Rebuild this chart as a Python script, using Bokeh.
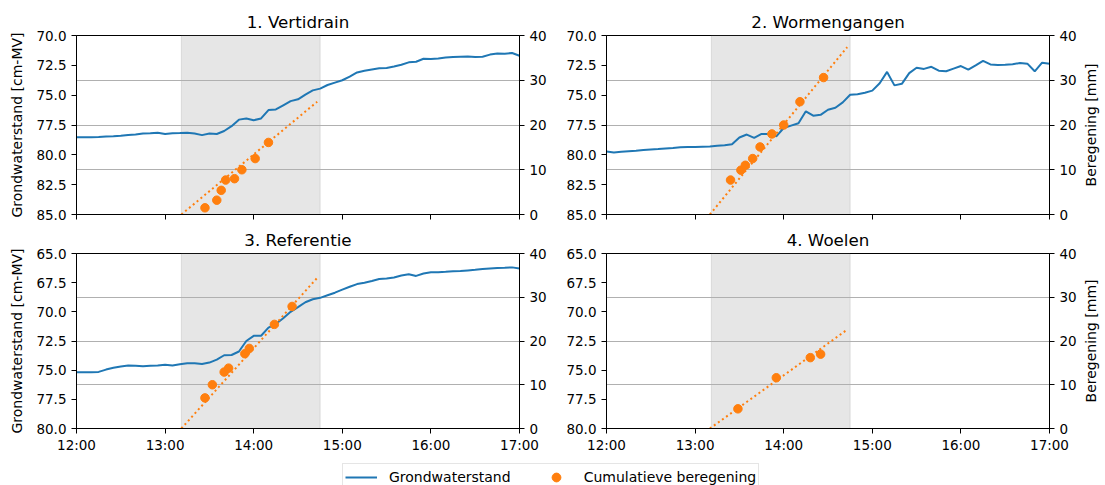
import math
import numpy as np
import pandas as pd
from bokeh.plotting import figure
from bokeh.models import (Range1d, LinearAxis, FixedTicker, Grid, BoxAnnotation,
                          DatetimeTickFormatter, PrintfTickFormatter, Legend, LegendItem,
                          CustomLabelingPolicy, Title)
from bokeh.layouts import row, column
from bokeh.embed import file_html
from bokeh.resources import INLINE

DAY = "2019-06-01 "

# ---------------- data ----------------
time_ticks = ["12:00", "13:00", "14:00", "15:00", "16:00", "17:00"]
top_gw_ticks = [70.0, 72.5, 75.0, 77.5, 80.0, 82.5, 85.0]
bottom_gw_ticks = [65.0, 67.5, 70.0, 72.5, 75.0, 77.5, 80.0]
irr_ticks = [0, 10, 20, 30, 40]

titles = ["1. Vertidrain", "2. Wormengangen", "3. Referentie", "4. Woelen"]
irrigation_window = ["13:11", "14:45"]

# groundwater level every 5 minutes, 12:00 - 17:00
gw_vertidrain = [78.53, 78.53, 78.52, 78.50, 78.47, 78.45, 78.40, 78.33, 78.30, 78.22,
                 78.20, 78.15, 78.25, 78.20, 78.18, 78.15, 78.22, 78.35, 78.22, 78.25,
                 78.00, 77.60, 77.05, 76.95, 77.10, 76.95, 76.25, 76.20, 75.85, 75.50,
                 75.35, 74.95, 74.60, 74.45, 74.15, 73.95, 73.75, 73.45, 73.10, 72.95,
                 72.85, 72.75, 72.72, 72.60, 72.45, 72.25, 72.20, 71.95, 71.97, 71.93,
                 71.85, 71.80, 71.78, 71.77, 71.80, 71.78, 71.60, 71.50, 71.52, 71.47,
                 71.70]
gw_wormengangen = [79.72, 79.80, 79.75, 79.70, 79.66, 79.60, 79.56, 79.52, 79.46, 79.42,
                   79.37, 79.34, 79.35, 79.32, 79.30, 79.24, 79.20, 79.12, 78.55, 78.30,
                   78.58, 78.25, 78.25, 78.45, 77.75, 77.55, 77.35, 76.35, 76.72, 76.65,
                   76.22, 76.05, 75.60, 74.97, 74.93, 74.80, 74.62, 74.00, 73.05, 74.18,
                   74.05, 73.15, 72.70, 72.80, 72.62, 72.95, 73.00, 72.78, 72.56, 72.86,
                   72.50, 72.12, 72.42, 72.47, 72.45, 72.40, 72.31, 72.36, 73.00, 72.28,
                   72.36]
gw_referentie = [75.17, 75.17, 75.17, 75.15, 74.95, 74.80, 74.68, 74.61, 74.62, 74.67,
                 74.63, 74.60, 74.53, 74.60, 74.50, 74.40, 74.40, 74.48, 74.35, 74.10,
                 73.72, 73.70, 73.40, 72.50, 72.06, 72.05, 71.35, 71.05, 70.55, 70.00,
                 69.60, 69.18, 68.92, 68.80, 68.58, 68.36, 68.10, 67.85, 67.62, 67.50,
                 67.35, 67.18, 67.15, 67.05, 66.88, 66.78, 66.92, 66.72, 66.61, 66.60,
                 66.57, 66.53, 66.50, 66.45, 66.40, 66.33, 66.28, 66.24, 66.22, 66.19,
                 66.28]
gw_woelen = []

# cumulative irrigation [mm]
irr_t_vertidrain = ["13:27", "13:35", "13:38", "13:41", "13:47", "13:52", "14:01", "14:10"]
irr_v_vertidrain = [1.5, 3.2, 5.4, 7.7, 8.0, 10.0, 12.5, 16.1]
irr_t_wormengangen = ["13:24", "13:31", "13:34", "13:39", "13:44", "13:52", "14:00", "14:11", "14:27"]
irr_v_wormengangen = [7.7, 9.9, 11.0, 12.5, 15.1, 18.0, 20.0, 25.2, 30.6]
irr_t_referentie = ["13:27", "13:32", "13:40", "13:43", "13:54", "13:57", "14:14", "14:26"]
irr_v_referentie = [7.0, 10.0, 12.9, 13.8, 17.1, 18.3, 23.8, 27.9]
irr_t_woelen = ["13:29", "13:55", "14:18", "14:25"]
irr_v_woelen = [4.5, 11.6, 16.2, 17.0]

# fitted irrigation trend lines (start, end)
fit_t_vertidrain = ["13:11", "14:43"]
fit_v_vertidrain = [0.0, 25.2]
fit_t_wormengangen = ["13:10", "14:43"]
fit_v_wormengangen = [0.0, 37.4]
fit_t_referentie = ["13:11", "14:44"]
fit_v_referentie = [0.0, 34.8]
fit_t_woelen = ["13:10", "14:43"]
fit_v_woelen = [0.0, 22.6]

legend_labels = ["Grondwaterstand", "Cumulatieve beregening"]
left_axis_label = "Grondwaterstand [cm-MV]"
right_axis_label = "Beregening [mm]"

# ---------------- helpers ----------------
BLUE = "#1f77b4"
ORANGE = "#ff7f0e"
FONT = "DejaVu Sans"
FRAME_W, FRAME_H = 443, 180
gw_times = pd.date_range(DAY + "12:00", DAY + "17:00", freq="5min")


def to_dt(lst):
    return pd.to_datetime([DAY + s for s in lst])


def ms(s):
    return pd.Timestamp(DAY + s).value / 1e6


def style_axis(ax):
    ax.axis_line_color = "black"
    ax.axis_line_width = 1
    ax.major_tick_line_color = "black"
    ax.major_tick_line_width = 1
    ax.major_tick_out = 5
    ax.major_tick_in = 0
    ax.minor_tick_line_color = None
    ax.major_label_text_font = FONT
    ax.major_label_text_font_size = "13.5px"
    ax.major_label_text_color = "black"
    ax.major_label_standoff = 5
    ax.axis_label_text_font = FONT
    ax.axis_label_text_font_size = "14px"
    ax.axis_label_text_font_style = "normal"
    ax.axis_label_text_color = "black"
    ax.axis_label_standoff = 8


def borders(left_col, bottom_row):
    mb_left = 76 if left_col else 51
    mb_right = 36 if left_col else 30
    mb_top = 27 if bottom_row else 35
    mb_bottom = 25 if bottom_row else 8
    return mb_left, mb_right, mb_top, mb_bottom


def panel(title, gw_ticks, gw, irr_t, irr_v, fit_t, fit_v, left_col, bottom_row):
    mb_left, mb_right, mb_top, mb_bottom = borders(left_col, bottom_row)
    p = figure(width=mb_left + FRAME_W + mb_right, height=mb_top + FRAME_H + mb_bottom,
               x_axis_type="datetime",
               x_range=Range1d(ms(time_ticks[0]), ms(time_ticks[-1])),
               y_range=Range1d(gw_ticks[-1], gw_ticks[0]),
               toolbar_location=None, output_backend="svg",
               min_border_left=mb_left, min_border_right=mb_right,
               min_border_top=mb_top, min_border_bottom=mb_bottom)
    p.extra_y_ranges = {"irr": Range1d(irr_ticks[0], irr_ticks[-1])}
    p.outline_line_color = "black"
    p.outline_line_width = 1
    p.background_fill_color = "white"
    p.border_fill_color = "white"

    p.title.text = title
    p.title.align = "center"
    p.title.text_font = FONT
    p.title.text_font_size = "16.7px"
    p.title.text_font_style = "normal"
    p.title.text_color = "black"
    p.title.standoff = 8

    p.xgrid.visible = False
    p.ygrid.visible = False

    shade = BoxAnnotation(left=ms(irrigation_window[0]), right=ms(irrigation_window[1]),
                          fill_color="grey", fill_alpha=0.2,
                          line_color="grey", line_alpha=0.2, line_width=1,
                          level="underlay")
    p.add_layout(shade)
    grid = Grid(dimension=1, ticker=FixedTicker(ticks=irr_ticks), y_range_name="irr",
                grid_line_color="#b0b0b0", grid_line_width=1)
    p.add_layout(grid)

    # x axis
    xax = p.xaxis[0]
    xax.ticker = FixedTicker(ticks=[ms(s) for s in time_ticks])
    xax.formatter = DatetimeTickFormatter(hours="%H:%M", hourmin="%H:%M", minutes="%H:%M",
                                          days="%H:%M", context=None)
    style_axis(xax)
    xax.major_label_standoff = 3
    if not bottom_row:
        # tick marks only, no tick labels (shared x axis)
        xax.major_label_text_font_size = "1px"
        xax.major_label_standoff = 0
        xax.major_label_policy = CustomLabelingPolicy(
            code="try { return new indices.constructor(indices.size) } catch (e) { return indices }")

    # left axis
    yax = p.yaxis[0]
    yax.ticker = FixedTicker(ticks=gw_ticks)
    yax.formatter = PrintfTickFormatter(format="%.1f")
    style_axis(yax)
    if left_col:
        yax.axis_label = left_axis_label

    # right axis
    rax = LinearAxis(y_range_name="irr", ticker=FixedTicker(ticks=irr_ticks))
    style_axis(rax)
    p.add_layout(rax, "right")

    if len(gw):
        p.line(gw_times, gw, line_color=BLUE, line_width=2)
    p.line(to_dt(fit_t), fit_v, y_range_name="irr", line_color=ORANGE,
           line_width=2, line_dash="2 3")
    p.scatter(to_dt(irr_t), irr_v, y_range_name="irr", size=8.5,
              fill_color=ORANGE, line_color=ORANGE)
    return p


def right_label_strip(bottom_row):
    # narrow strip carrying the right-hand axis title (reads bottom-to-top)
    _, _, mb_top, mb_bottom = borders(False, bottom_row)
    s = figure(width=26, height=mb_top + FRAME_H + mb_bottom,
               x_range=Range1d(0, 1), y_range=Range1d(0, 1),
               toolbar_location=None, output_backend="svg",
               x_axis_location=None, y_axis_location=None,
               min_border_left=19, min_border_right=0,
               min_border_top=mb_top, min_border_bottom=mb_bottom)
    s.outline_line_color = None
    s.xgrid.visible = False
    s.ygrid.visible = False
    s.title.visible = False
    s.add_layout(Title(text=right_axis_label, align="center", standoff=0,
                       text_font=FONT, text_font_size="14px", text_font_style="normal",
                       text_color="black"), "left")
    return s


p1 = panel(titles[0], top_gw_ticks, gw_vertidrain, irr_t_vertidrain, irr_v_vertidrain,
           fit_t_vertidrain, fit_v_vertidrain, True, False)
p2 = panel(titles[1], top_gw_ticks, gw_wormengangen, irr_t_wormengangen, irr_v_wormengangen,
           fit_t_wormengangen, fit_v_wormengangen, False, False)
p3 = panel(titles[2], bottom_gw_ticks, gw_referentie, irr_t_referentie, irr_v_referentie,
           fit_t_referentie, fit_v_referentie, True, True)
p4 = panel(titles[3], bottom_gw_ticks, gw_woelen, irr_t_woelen, irr_v_woelen,
           fit_t_woelen, fit_v_woelen, False, True)
s2 = right_label_strip(False)
s4 = right_label_strip(True)

# legend strip (dummy glyphs lie outside the visible range; only the legend shows)
pleg = figure(width=1105, height=30, x_range=Range1d(0, 1), y_range=Range1d(0, 1),
              toolbar_location=None, output_backend="svg",
              x_axis_location=None, y_axis_location=None, min_border=0)
pleg.outline_line_color = None
pleg.xgrid.visible = False
pleg.ygrid.visible = False
r_line = pleg.line([-10, -9], [-10, -10], line_color=BLUE, line_width=2)
r_dot = pleg.scatter([-10], [-10], size=8.5, fill_color=ORANGE, line_color=ORANGE)
legend = Legend(items=[LegendItem(label=legend_labels[0], renderers=[r_line]),
                       LegendItem(label=legend_labels[1], renderers=[r_dot])],
                location=(342, -6), orientation="horizontal",
                glyph_width=32, glyph_height=22, label_height=22,
                label_standoff=12, spacing=29, padding=2, margin=0,
                label_text_font=FONT, label_text_font_size="14px", label_text_color="black",
                border_line_color="#cccccc", border_line_width=1,
                background_fill_color="white", background_fill_alpha=1)
pleg.add_layout(legend)

layout = column(row(p1, p2, s2), row(p3, p4, s4), pleg)

open("out.html", "w").write(file_html(layout, INLINE))
